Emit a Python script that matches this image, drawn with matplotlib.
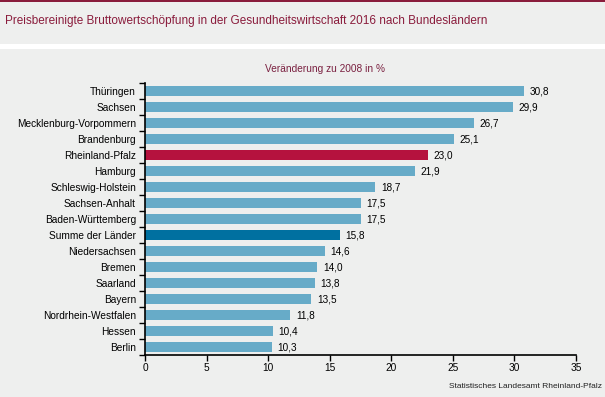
import matplotlib
matplotlib.use("Agg")
import matplotlib.pyplot as plt
from matplotlib.ticker import FixedLocator
import matplotlib.patches as mpatches

plt.rcParams['font.family'] = ['Liberation Sans', 'DejaVu Sans']

categories = ["Thüringen", "Sachsen", "Mecklenburg-Vorpommern", "Brandenburg",
              "Rheinland-Pfalz", "Hamburg", "Schleswig-Holstein", "Sachsen-Anhalt",
              "Baden-Württemberg", "Summe der Länder", "Niedersachsen", "Bremen",
              "Saarland", "Bayern", "Nordrhein-Westfalen", "Hessen", "Berlin"]
values = [30.8, 29.9, 26.7, 25.1, 23.0, 21.9, 18.7, 17.5, 17.5, 15.8, 14.6,
          14.0, 13.8, 13.5, 11.8, 10.4, 10.3]
xticks = [0, 5, 10, 15, 20, 25, 30, 35]

light = "#67abc8"
highlight = {"Rheinland-Pfalz": "#b5123e", "Summe der Länder": "#0070a0"}
colors = [highlight.get(c, light) for c in categories]

bg = "#eeefee"
fig = plt.figure(figsize=(6.05, 3.97), dpi=100, facecolor=bg)

# decorations: top maroon line, white separator
fig.add_artist(mpatches.Rectangle((0, 1 - 2/397), 1, 2/397, transform=fig.transFigure,
                                  facecolor="#8a1c3c", edgecolor="none"))
fig.add_artist(mpatches.Rectangle((0, 1 - 49/397), 1, 5/397, transform=fig.transFigure,
                                  facecolor="white", edgecolor="none"))

fig.text(5/605, 1 - 21/397, "Preisbereinigte Bruttowertschöpfung in der Gesundheitswirtschaft 2016 nach Bundesländern",
         color="#8a1c3c", fontsize=8.45, ha="left", va="center")

fig.text(325/605, 1 - 69/397, "Veränderung zu 2008 in %", fontsize=7.25,
         color="#7a2040", ha="center", va="center")

ax = fig.add_axes([145/605, 1 - 355/397, 431/605, (355 - 83)/397])
ax.set_facecolor(bg)
y = list(range(len(categories)))
ax.barh(y, values, height=0.62, color=colors)
ax.set_ylim(len(categories) - 0.5, -0.5)
ax.set_xlim(0, 35)
ax.set_yticks(y)
ax.set_yticklabels(categories, fontsize=7.3)
ax.yaxis.set_minor_locator(FixedLocator([i - 0.5 for i in range(len(categories) + 1)]))
ax.tick_params(axis="y", which="major", length=0, pad=6.5)
ax.tick_params(axis="y", which="minor", length=4, width=1)
ax.set_xticks(xticks)
ax.set_xticklabels([str(t) for t in xticks], fontsize=7.3)
ax.tick_params(axis="x", length=4, width=1, pad=2)
for s in ["top", "right"]:
    ax.spines[s].set_visible(False)
for s in ["left", "bottom"]:
    ax.spines[s].set_linewidth(1.2)

for yi, v in zip(y, values):
    ax.annotate(f"{v:.1f}".replace(".", ","), (v, yi), xytext=(4, 0),
                textcoords="offset points", va="center", ha="left", fontsize=7.2)

fig.text(602/605, 1 - 387/397, "Statistisches Landesamt Rheinland-Pfalz", fontsize=6.05,
         ha="right", va="center", color="#222222")

fig.savefig("out.png", dpi=100, facecolor=bg)
